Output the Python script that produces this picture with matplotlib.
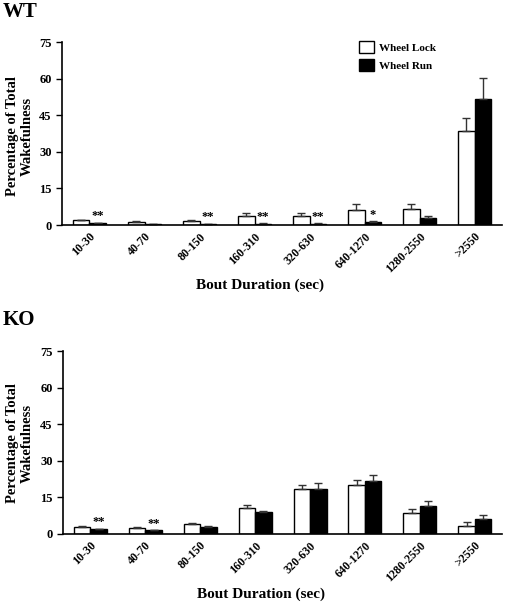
import matplotlib
matplotlib.use("Agg")
import matplotlib.pyplot as plt
import numpy as np

plt.rcParams['font.family'] = ['Liberation Serif', 'DejaVu Serif']
plt.rcParams['font.weight'] = 'bold'

bins = ['10-30', '40-70', '80-150', '160-310', '320-630', '640-1270', '1280-2550', '>2550']

wt_lock = [2.0, 1.3, 1.6, 3.8, 3.8, 6.1, 6.5, 38.5]
wt_lock_err = [0.2, 0.2, 0.3, 1.0, 1.0, 2.4, 2.0, 5.4]
wt_run = [0.7, 0.5, 0.4, 0.6, 0.6, 1.1, 2.9, 51.6]
wt_run_err = [0.2, 0.1, 0.1, 0.1, 0.1, 0.4, 0.8, 8.8]
wt_stars = ['**', '', '**', '**', '**', '*', '', '']

ko_lock = [3.0, 2.5, 4.0, 10.6, 18.4, 20.2, 8.5, 3.4]
ko_lock_err = [0.4, 0.2, 0.4, 1.3, 1.8, 1.8, 1.6, 1.4]
ko_run = [1.9, 1.5, 2.7, 8.9, 18.6, 21.6, 11.3, 6.3]
ko_run_err = [0.2, 0.1, 0.4, 0.6, 2.1, 2.7, 2.2, 1.5]
ko_stars = ['**', '**', '', '', '', '', '', '']

W, H = 506, 602
fig = plt.figure(figsize=(W / 100, H / 100), dpi=100)


def panel(rect, title, title_y, ylab_y, lock, lock_err, run, run_err, stars, legend):
    ax = fig.add_axes(rect)
    x = np.arange(len(bins))
    w = 0.3
    ax.bar(x - w / 2, lock, w, color='white', edgecolor='black', linewidth=1.0,
           yerr=[np.zeros(len(lock)), lock_err], capsize=3,
           error_kw=dict(ecolor='#333333', elinewidth=1.0, capthick=1.0), label='Wheel Lock')
    ax.bar(x + w / 2, run, w, color='black', edgecolor='black', linewidth=1.0,
           yerr=[np.zeros(len(run)), run_err], capsize=3,
           error_kw=dict(ecolor='#333333', elinewidth=1.0, capthick=1.0), label='Wheel Run')
    for i, s in enumerate(stars):
        if s:
            ax.text(x[i] + w / 2, run[i] + run_err[i] + 0.2, s, ha='center', va='bottom',
                    fontsize=9, fontweight='bold')
    ax.set_xlim(-0.5, 7.5)
    ax.set_ylim(0, 75)
    ax.set_yticks([0, 15, 30, 45, 60, 75])
    ax.set_xticks(x)
    ax.set_xticklabels(bins, rotation=45, ha='right', rotation_mode='anchor', fontsize=8.5)
    ax.tick_params(axis='x', length=0, pad=4)
    ax.tick_params(axis='y', labelsize=9, length=4, width=1)
    for lab in ax.get_xticklabels() + ax.get_yticklabels():
        lab.set_fontweight('bold')
    ax.spines['top'].set_visible(False)
    ax.spines['right'].set_visible(False)
    ax.spines['left'].set_linewidth(1.2)
    ax.spines['bottom'].set_linewidth(1.2)
    fig.text(20 / W, 1 - ylab_y / H, 'Percentage of Total\nWakefulness', rotation=90,
             ha='center', va='center', fontsize=10.5, fontweight='bold', linespacing=1.15)
    ax.set_xlabel('Bout Duration (sec)', fontsize=11, fontweight='bold')
    ax.xaxis.set_label_coords(0.45, -0.29)
    if legend:
        ax.legend(loc='upper right', bbox_to_anchor=(0.86, 1.03), borderaxespad=0, frameon=False,
                  handlelength=1.3, handleheight=1.3, handletextpad=0.5,
                  labelspacing=0.5, prop={'weight': 'bold', 'size': 8})
    fig.text(3 / W, 1 - title_y / H, title, fontsize=15, fontweight='bold', va='center')
    return ax


panel([0.1225, 0.6262, 0.87, 0.3038], 'WT', 12, 136,
      wt_lock, wt_lock_err, wt_run, wt_run_err, wt_stars, True)
panel([0.1245, 0.1130, 0.868, 0.3039], 'KO', 320, 443,
      ko_lock, ko_lock_err, ko_run, ko_run_err, ko_stars, False)

fig.savefig('out.png', dpi=100)
